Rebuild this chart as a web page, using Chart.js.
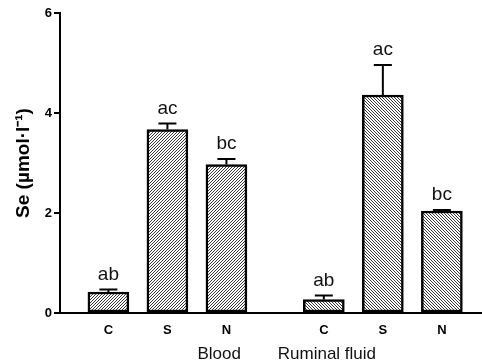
<!DOCTYPE html>
<html>
<head>
<meta charset="utf-8">
<script src="https://cdn.jsdelivr.net/npm/chart.js@4/dist/chart.umd.min.js"></script>
<style>
  body { margin: 0; background: #fff; }
</style>
</head>
<body>
<canvas id="graph" width="482" height="364"></canvas>
<script>
// data
const categories = ["C", "S", "N", "C", "S", "N"];
const groups = ["Blood", "Ruminal fluid"];
const seMeans = [0.42, 3.67, 2.97, 0.27, 4.36, 2.04];
const seErrors = [0.05, 0.12, 0.11, 0.08, 0.6, 0.02];
const letters = ["ab", "ac", "bc", "ab", "ac", "bc"];
const yTicks = [0, 2, 4, 6];

// 3 bars per group, extra gap between groups
const groupStep = 3.65;
const xPos = categories.map((c, i) => Math.floor(i / 3) * groupStep + (i % 3) + 1);
const groupPos = groups.map((g, i) => i * groupStep + 2);

function hatch(dir) {
  const s = 3;
  const c = document.createElement("canvas");
  c.width = s;
  c.height = s;
  const g = c.getContext("2d");
  g.fillStyle = "#fff";
  g.fillRect(0, 0, s, s);
  g.strokeStyle = "#3a3a3a";
  g.lineWidth = 1;
  g.beginPath();
  if (dir > 0) {
    g.moveTo(-1, s + 1); g.lineTo(s + 1, -1);
    g.moveTo(-1, 1); g.lineTo(1, -1);
    g.moveTo(s - 1, s + 1); g.lineTo(s + 1, s - 1);
  } else {
    g.moveTo(-1, -1); g.lineTo(s + 1, s + 1);
    g.moveTo(s - 1, -1); g.lineTo(s + 1, 1);
    g.moveTo(-1, s - 1); g.lineTo(1, s + 1);
  }
  g.stroke();
  return g.createPattern(c, "repeat");
}
const fwd = hatch(1);
const back = hatch(-1);

const errorBars = {
  id: "errorBars",
  afterDatasetsDraw(chart) {
    const ctx = chart.ctx;
    const xs = chart.scales.x;
    const ys = chart.scales.y;
    ctx.save();
    ctx.strokeStyle = "#000";
    ctx.lineWidth = 2;
    ctx.fillStyle = "#111";
    ctx.font = "19px Arial, 'Liberation Sans', sans-serif";
    ctx.textAlign = "center";
    ctx.textBaseline = "alphabetic";
    seMeans.forEach((m, i) => {
      const x = xs.getPixelForValue(xPos[i]);
      const y0 = ys.getPixelForValue(m);
      const y1 = ys.getPixelForValue(m + seErrors[i]);
      ctx.beginPath();
      ctx.moveTo(x, y0);
      ctx.lineTo(x, y1);
      ctx.moveTo(x - 9, y1);
      ctx.lineTo(x + 9, y1);
      ctx.stroke();
      ctx.fillText(letters[i], x, y1 - 10);
    });
    ctx.restore();
  }
};

const graph = document.getElementById("graph").getContext("2d");

const myChart = new Chart(graph, {
  type: "bar",
  data: {
    datasets: [
      {
        data: seMeans.map((v, i) => ({ x: xPos[i], y: v })),
        backgroundColor: seMeans.map((v, i) => (i < 3 ? fwd : back)),
        borderColor: "#000",
        borderWidth: 2.5,
        borderSkipped: false,
        barThickness: 41,
      },
    ],
  },
  options: {
    responsive: false,
    animation: false,
    plugins: {
      legend: { display: false },
      tooltip: { enabled: false },
    },
    layout: {
      padding: { top: 13, left: 0, right: 0, bottom: 0 },
    },
    scales: {
      x: {
        type: "linear",
        min: 0.18,
        max: 7.33,
        offset: false,
        afterBuildTicks(scale) {
          scale.ticks = xPos.map((v) => ({ value: v }));
        },
        afterFit(scale) {
          scale.height = 28;
        },
        ticks: {
          autoSkip: false,
          maxRotation: 0,
          padding: 10,
          color: "#000",
          font: { family: "Arial", size: 13, weight: "bold" },
          callback: (v, i) => categories[i],
        },
        grid: { drawOnChartArea: false, drawTicks: false },
        border: { display: true, color: "#000", width: 2 },
      },
      x2: {
        type: "linear",
        position: "bottom",
        weight: 1,
        min: 0.18,
        max: 7.33,
        afterBuildTicks(scale) {
          scale.ticks = groupPos.map((v) => ({ value: v }));
        },
        afterFit(scale) {
          scale.height = 23;
        },
        ticks: {
          autoSkip: false,
          maxRotation: 0,
          padding: 3,
          color: "#111",
          font: { family: "Arial", size: 17 },
          callback: (v, i) => groups[i],
        },
        grid: { display: false, drawTicks: false },
        border: { display: false },
      },
      y: {
        min: 0,
        max: 6,
        afterBuildTicks(scale) {
          scale.ticks = yTicks.map((v) => ({ value: v }));
        },
        afterFit(scale) {
          scale.width = 60;
        },
        ticks: {
          padding: 2,
          color: "#000",
          font: { family: "Arial", size: 13, weight: "bold" },
        },
        grid: { drawOnChartArea: false, drawTicks: true, tickLength: 6, color: "#000", lineWidth: 2 },
        border: { color: "#000", width: 2 },
        title: {
          display: true,
          text: "Se (µmol·l⁻¹)",
          color: "#000",
          font: { family: "Arial", size: 19, weight: "bold" },
          padding: { top: 12, bottom: 4 },
        },
      },
    },
  },
  plugins: [errorBars],
});
</script>
</body>
</html>
